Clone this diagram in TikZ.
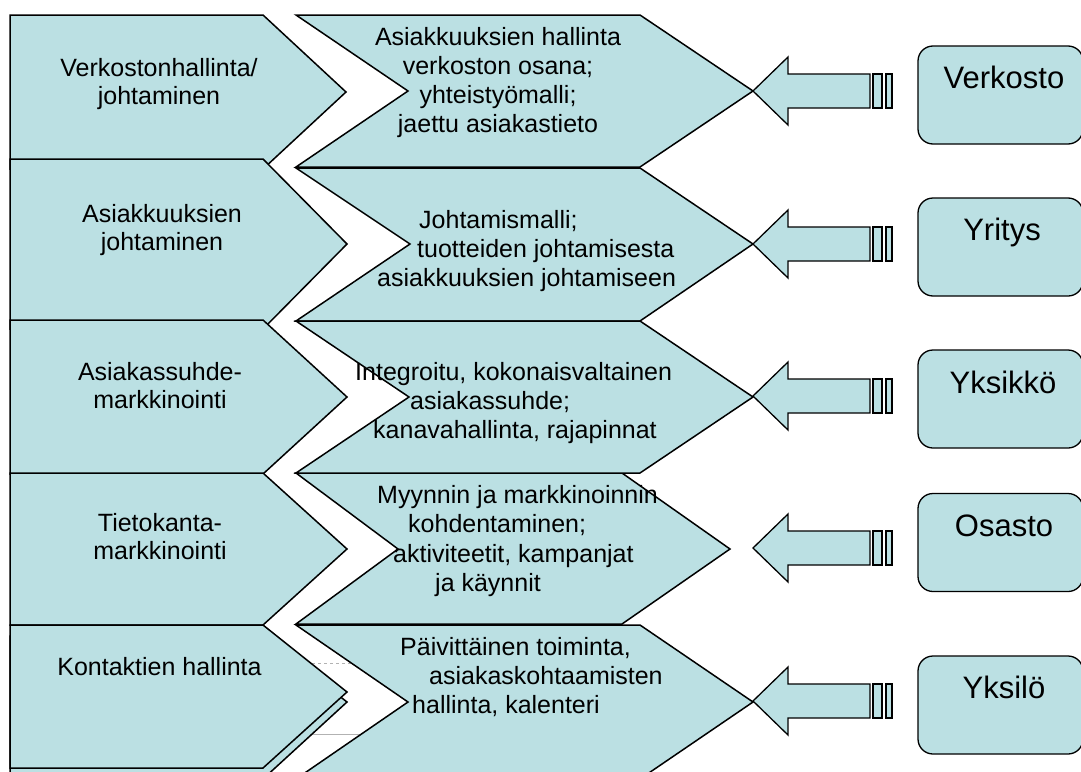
\documentclass[tikz,border=0pt]{standalone}
\usepackage{fontspec}
\setmainfont{Liberation Sans}
\definecolor{pale}{HTML}{BBE0E3}
\begin{document}
\begin{tikzpicture}[x=1pt,y=-1pt,
  chev/.style={fill=pale,draw=black,line width=1.5pt,line join=miter},
  blockarrow/.style={fill=pale,draw=black,line width=1.3pt,line join=miter},
  rbox/.style={fill=pale,draw=black,line width=1.3pt,rounded corners=15pt,minimum width=165pt,minimum height=98pt,inner sep=0pt},
  lbl/.style={font=\fontsize{25}{28}\selectfont,inner sep=0pt,align=center,anchor=north},
  mlbl/.style={font=\fontsize{25}{29}\selectfont,inner sep=0pt,align=left,anchor=north west},
  blbl/.style={font=\fontsize{31}{36}\selectfont,inner sep=0pt,anchor=north},
  faint/.style={draw=black!30,line width=0.6pt}]
\useasboundingbox (0,0) rectangle (1081,771);
\clip (0,0) rectangle (1081,771);

% faint artefact lines in the gap
\draw[faint,dashed] (300,663) -- (370,663);
\draw[faint] (300,734) -- (370,734);

% left column chevrons
\draw[chev] (10,15) -- (263,15) -- (346,92) -- (263,169) -- (10,169) -- cycle;
\draw[chev] (10,159) -- (263,159) -- (347,244) -- (263,329) -- (10,329) -- cycle;
\draw[chev] (10,320) -- (263,320) -- (347,397) -- (263,474) -- (10,474) -- cycle;
\draw[chev] (10,473) -- (263,473) -- (347,549) -- (263,625) -- (10,625) -- cycle;
\draw[chev] (10,636) -- (263,636) -- (347,702) -- (263,779) -- (10,779) -- cycle;
\draw[chev] (10,625) -- (263,625) -- (347,692) -- (263,768) -- (10,768) -- cycle;

% middle column chevrons
\draw[chev] (296,15) -- (640,15) -- (753,91) -- (640,167) -- (296,167) -- (408,91) -- cycle;
\draw[chev] (296,168) -- (640,168) -- (753,244) -- (640,321) -- (296,321) -- (410,244) -- cycle;
\draw[chev] (296,473) -- (622,473) -- (730,549) -- (622,624) -- (296,624) -- (398,549) -- cycle;
\draw[chev] (296,321) -- (640,321) -- (753,397) -- (640,473) -- (296,473) -- (409,397) -- cycle;
\draw[chev] (296,625) -- (640,625) -- (753,702) -- (640,779) -- (296,779) -- (408,702) -- cycle;

% block arrows
\foreach \c in {91,244,396,548,701}{
  \draw[blockarrow] (753,\c) -- (788,\c-34) -- (788,\c-17) -- (870,\c-17) -- (870,\c+17) -- (788,\c+17) -- (788,\c+34) -- cycle;
  \draw[blockarrow] (873,\c-17) rectangle (882,\c+17);
  \draw[blockarrow] (886,\c-17) rectangle (892,\c+17);
}

% right boxes
\node[rbox] (b1) at (1000.5,95) {};
\node[rbox] (b2) at (1000.5,247) {};
\node[rbox] (b3) at (1000.5,399) {};
\node[rbox] (b4) at (1000.5,542.5) {};
\node[rbox] (b5) at (1000.5,705) {};
\node[blbl] (t1) at (1004,66) {Verkosto};
\node[blbl] (t2) at (1002,218) {Yritys};
\node[blbl] (t3) at (1003,371) {Yksikkö};
\node[blbl] (t4) at (1004,515) {Osasto};
\node[blbl] (t5) at (1004,676) {Yksilö};

% left texts
\node[lbl] (l1) at (159,58) {Verkostonhallinta/\\johtaminen};
\node[lbl] (l2) at (162,204) {Asiakkuuksien\\johtaminen};
\node[lbl] (l3) at (160,362) {Asiakassuhde-\\markkinointi};
\node[lbl] (l4) at (160,513) {Tietokanta-\\markkinointi};
\node[lbl] (l5) at (159.5,657) {Kontaktien hallinta};

% middle texts
\node[lbl,font=\fontsize{25}{29}\selectfont] (m1) at (498,27) {Asiakkuuksien hallinta\\verkoston osana;\\yhteistyömalli;\\jaettu asiakastieto};
\node[mlbl] (m2) at (377,210) {\hspace*{42pt}Johtamismalli;\\\hspace*{40pt}tuotteiden johtamisesta\\asiakkuuksien johtamiseen};
\node[mlbl] (m3) at (355,362) {Integroitu, kokonaisvaltainen\\\hspace*{55pt}asiakassuhde;\\\hspace*{18pt}kanavahallinta, rajapinnat};
\node[mlbl,font=\fontsize{25}{29.5}\selectfont] (m4) at (377,485) {Myynnin ja markkinoinnin\\\hspace*{31pt}kohdentaminen;\\\hspace*{16pt}aktiviteetit, kampanjat\\\hspace*{58pt}ja käynnit};
\node[mlbl] (m5) at (400,637) {Päivittäinen toiminta,\\\hspace*{29pt}asiakaskohtaamisten\\\hspace*{12pt}hallinta, kalenteri};
\end{tikzpicture}
\end{document}
